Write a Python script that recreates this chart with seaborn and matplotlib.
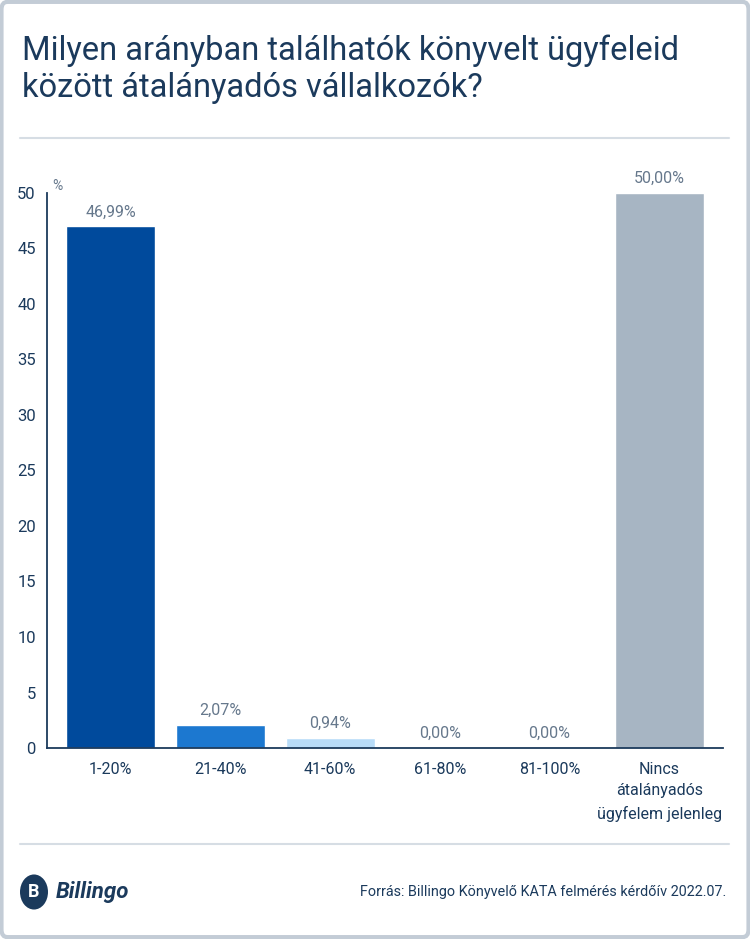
import matplotlib
matplotlib.use("Agg")
import matplotlib.pyplot as plt
import seaborn as sns
import pandas as pd
from matplotlib.patches import FancyBboxPatch, Circle
from matplotlib.lines import Line2D

# Data
categories = ["1-20%", "21-40%", "41-60%", "61-80%", "81-100%",
              "Nincs\nátalányadós\nügyfelem jelenleg"]
values = [46.99, 2.07, 0.94, 0.00, 0.00, 50.00]
bar_colors = ["#004a9c", "#1c78d0", "#b8dcf8", "#b8dcf8", "#b8dcf8", "#a7b5c3"]
y_ticks = [0, 5, 10, 15, 20, 25, 30, 35, 40, 45, 50]

title = "Milyen arányban találhatók könyvelt ügyfeleid\nközött átalányadós vállalkozók?"
source = "Forrás: Billingo Könyvelő KATA felmérés kérdőív 2022.07."

NAVY = "#1b3a5c"
GREY_TXT = "#66788c"
LINE = "#d6dde4"

sns.set_theme(style="white")
plt.rcParams["font.family"] = ["Roboto", "DejaVu Sans"]

df = pd.DataFrame({"cat": categories, "val": values})

fig = plt.figure(figsize=(7.5, 9.39), dpi=100)
fig.patch.set_facecolor("white")

# card border
card = FancyBboxPatch((0.002, 0.002), 0.996, 0.996, boxstyle="round,pad=0,rounding_size=0.008",
                      transform=fig.transFigure, facecolor="white", edgecolor="#c3ccd6",
                      linewidth=3, zorder=-10)
fig.patches.append(card)

ax = fig.add_axes([0.0627, 0.2034, 0.9013, 0.5911])
sns.barplot(data=df, x="cat", y="val", hue="cat", palette=bar_colors, legend=False,
            width=0.81, saturation=1, ax=ax)

ax.set_xlim(-0.58, 5.58)
ax.set_ylim(0, 50)
ax.set_yticks(y_ticks)
ax.set_xlabel("")
ax.set_ylabel("")

for side in ["top", "right"]:
    ax.spines[side].set_visible(False)
for side in ["left", "bottom"]:
    ax.spines[side].set_color(NAVY)
    ax.spines[side].set_linewidth(1.3)

ax.tick_params(axis="both", direction="out", length=5, width=1.2, color=NAVY,
               labelcolor=NAVY)
ax.tick_params(axis="x", pad=5, labelsize=11.5)
ax.tick_params(axis="y", pad=3, labelsize=12)
for lbl in ax.get_xticklabels():
    lbl.set_linespacing(1.55)
ax.grid(False)

for cont in ax.containers:
    labels = [f"{v:.2f}%".replace(".", ",") for v in cont.datavalues]
    ax.bar_label(cont, labels=labels, padding=5, color=GREY_TXT, fontsize=11.5)

ax.text(0.008, 1.0, "%", transform=ax.transAxes, color=GREY_TXT, fontsize=10,
        ha="left", va="bottom")

# title
fig.text(22 / 750, 1 - 35 / 939, title, ha="left", va="top", fontsize=23.5,
         color=NAVY, linespacing=1.2)

# dividers
fig.add_artist(Line2D([20 / 750, 729 / 750], [1 - 138 / 939] * 2, color=LINE, lw=1.5))
fig.add_artist(Line2D([20 / 750, 729 / 750], [1 - 844 / 939] * 2, color=LINE, lw=1.5))

# footer logo
ax_logo_y = 1 - 892 / 939
fig.add_artist(Circle((34 / 750, ax_logo_y), 14 / 750, transform=fig.transFigure,
                      facecolor=NAVY, edgecolor="none"))
fig.text(34 / 750, ax_logo_y, "B", ha="center", va="center", color="white",
         fontsize=13, fontweight="bold")
fig.text(56 / 750, ax_logo_y, "Billingo", ha="left", va="center", color=NAVY,
         fontsize=16, fontstyle="italic", fontweight="bold")

fig.text(726 / 750, ax_logo_y, source, ha="right", va="center", color=NAVY, fontsize=10.4)

fig.savefig("out.png", dpi=100, facecolor="white")
